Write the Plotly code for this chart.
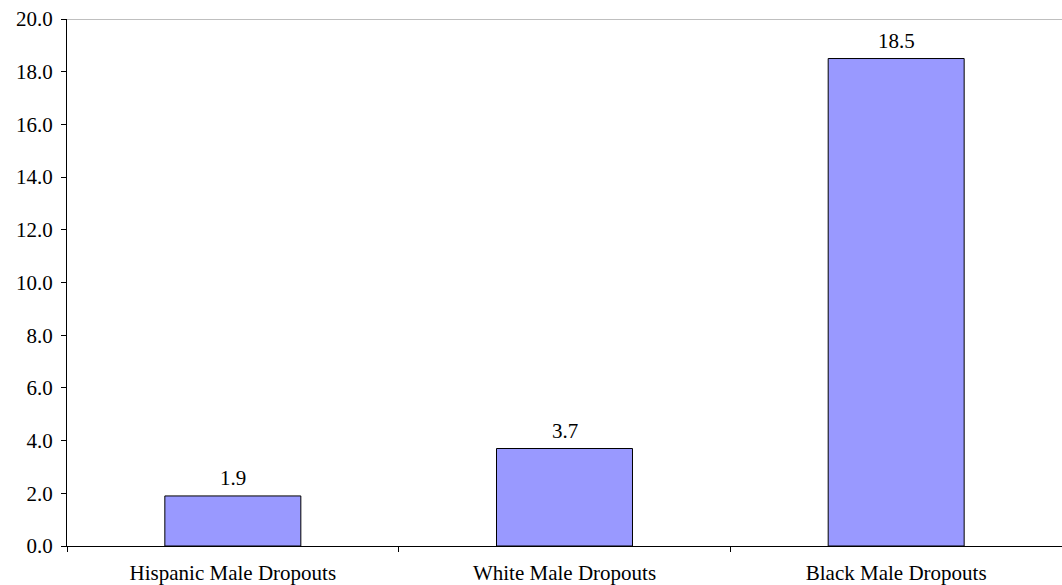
import plotly.graph_objects as go

categories = ["Hispanic Male Dropouts", "White Male Dropouts", "Black Male Dropouts"]
values = [1.9, 3.7, 18.5]
y_ticks = [0, 2, 4, 6, 8, 10, 12, 14, 16, 18, 20]

font = dict(family="Liberation Serif, Times New Roman, serif", size=21, color="black")

fig = go.Figure(go.Bar(
    x=categories,
    y=values,
    width=0.41,
    marker=dict(color="#9999FF", line=dict(color="black", width=1)),
))

# value labels above bars
for c, v in zip(categories, values):
    fig.add_annotation(x=c, y=v, text=f"{v:.1f}", showarrow=False,
                       yanchor="bottom", yshift=4, font=font)

fig.update_layout(
    width=1062, height=585,
    margin=dict(l=67, r=0, t=19, b=39, autoexpand=False),
    paper_bgcolor="white", plot_bgcolor="white",
    font=font,
    showlegend=False,
    xaxis=dict(showline=True, linecolor="black", linewidth=1,
               ticks="outside", tickson="boundaries", ticklen=5,
               tickcolor="black", showgrid=False, automargin=False,
               ticklabelstandoff=8),
    yaxis=dict(range=[0, 20], tickvals=y_ticks,
               ticktext=[f"{t:.1f}" for t in y_ticks],
               showline=True, linecolor="black", linewidth=1,
               ticks="outside", ticklen=5, tickcolor="black",
               showgrid=False, zeroline=False, automargin=False,
               ticklabelstandoff=4),
)
# top border line at 20.0
fig.add_shape(type="line", xref="paper", yref="y", x0=0, x1=1, y0=20, y1=20,
              line=dict(color="#808080", width=1))

# drop the default 8px page margin so the figure fills the window
fig.write_html("out.html", config={"displayModeBar": False},
               post_script="document.body.style.margin='0';document.body.style.overflow='hidden';")
